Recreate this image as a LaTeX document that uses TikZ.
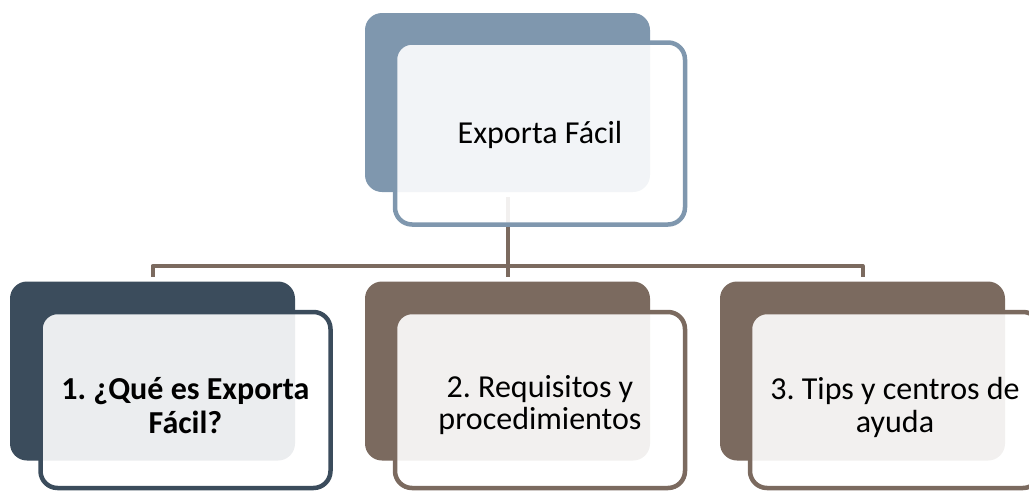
\documentclass[tikz,border=0pt]{standalone}
\usepackage{fontspec}
\setmainfont{Carlito}
\frenchspacing
\definecolor{slateblue}{HTML}{7F97AE}
\definecolor{darkslate}{HTML}{3B4C5C}
\definecolor{taupe}{HTML}{7B6A5F}
\tikzset{
  backbox/.style={rounded corners=17pt, minimum width=285pt, minimum height=179pt, inner sep=0pt, outer sep=0pt},
  frontbox/.style={rounded corners=17pt, line width=4.5pt, fill=white, fill opacity=0.9,
    minimum width=290pt, inner sep=0pt, outer sep=0pt},
  label text/.style={align=center, text=black, inner sep=0pt, font=\fontsize{32}{33}\selectfont},
  conn/.style={draw=taupe, line width=4pt, line join=round}
}
\begin{document}
\begin{tikzpicture}[x=1pt,y=-1pt]
\useasboundingbox (0,0) rectangle (1029,491);
% back boxes
\node[backbox, fill=slateblue] (topback) at (507.5,102.5) {};
\node[backbox, fill=darkslate] (b1back) at (152.5,371) {};
\node[backbox, fill=taupe] (b2back) at (507.5,371) {};
\node[backbox, fill=taupe] (b3back) at (862.5,371) {};
% connectors
\coordinate (hub) at (509,266);
\draw[conn] ([yshift=-5pt]topback.south) -- (topback.south |- hub);
\draw[conn] ([yshift=5pt]b1back.north) -- (b1back.north |- hub) -- (b3back.north |- hub) -- ([yshift=5pt]b3back.north);
\draw[conn] (topback.south |- hub) -- ([yshift=5pt]b2back.north);
% front boxes
\node[frontbox, draw=slateblue, minimum height=182pt] (topfront) at (540,133.5) {};
\node[frontbox, draw=darkslate, minimum height=176pt] (b1front) at (185.5,400) {};
\node[frontbox, draw=taupe, minimum height=176pt] (b2front) at (540,400) {};
\node[frontbox, draw=taupe, minimum height=176pt] (b3front) at (895,400) {};
% texts
\node[label text] (t0) at ([yshift=-1pt]topfront.center) {Exporta Fácil};
\node[label text, font=\fontsize{32}{34}\selectfont\bfseries] (t1) at ([yshift=-6pt]b1front.center) {1. ¿Qué es Exporta\\Fácil?};
\node[label text, font=\fontsize{32}{32}\selectfont] (t2) at ([yshift=-5pt]b2front.center) {2. Requisitos y\\procedimientos};
\node[label text] (t3) at ([yshift=-7pt]b3front.center) {3. Tips y centros de\\ayuda};
\end{tikzpicture}
\end{document}
